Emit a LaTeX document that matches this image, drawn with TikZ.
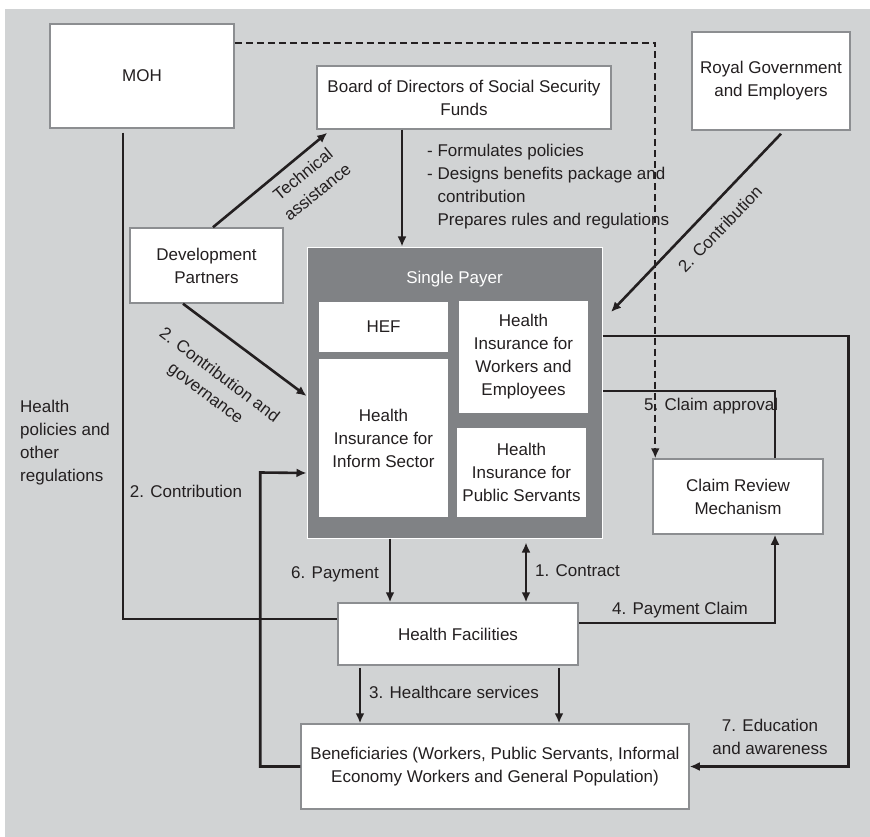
\documentclass[tikz,border=0pt]{standalone}
\usepackage{fontspec}
\setmainfont{Liberation Sans}
\usepackage{tikz}
\usetikzlibrary{arrows.meta, positioning}
\definecolor{bggrey}{RGB}{209,211,212}
\definecolor{paygrey}{RGB}{128,130,133}
\definecolor{edgegrey}{RGB}{140,142,145}
\definecolor{inkdark}{RGB}{35,31,32}

\begin{document}
\begin{tikzpicture}[x=1pt, y=-1pt,
  box/.style={rectangle, draw=edgegrey, fill=white, line width=1.5pt, inner sep=0pt, align=center, text=inkdark, font=\fontsize{17}{23}\selectfont},
  inbox/.style={rectangle, fill=white, inner sep=0pt, align=center, text=inkdark, font=\fontsize{17}{23}\selectfont},
  payer/.style={rectangle, draw=white, fill=paygrey, line width=1pt, inner sep=0pt},
  lbl/.style={align=center, text=inkdark, inner sep=0pt, font=\fontsize{17}{23}\selectfont},
  carrow/.style={-{Latex[length=10pt,width=9pt]}, line width=2.6pt, color=inkdark},
  darrow/.style={{Latex[length=10pt,width=9pt]}-{Latex[length=10pt,width=9pt]}, line width=2.6pt, color=inkdark},
  cline/.style={line width=2.6pt, color=inkdark},
  dline/.style={-{Latex[length=10pt,width=9pt]}, line width=2.4pt, color=inkdark, dash pattern=on 7pt off 4pt}]

  % Background
  \useasboundingbox (0,0) rectangle (870,837);
  \fill[bggrey] (5,9) rectangle (870,837);

  % Top row
  \node[box, minimum width=184pt, minimum height=104pt] (moh) at (142,76) {MOH};
  \node[box, minimum width=294pt, minimum height=63pt] (board) at (464,97.5) {Board of Directors of Social Security\\Funds};
  \node[box, minimum width=158pt, minimum height=98pt] (royal) at (771,81) {Royal Government\\and Employers};
  \node[box, minimum width=153pt, minimum height=75pt] (devp) at (206.5,265.5) {Development\\Partners};

  % Single payer
  \node[payer, minimum width=295pt, minimum height=291pt] (sp) at (454.5,392.5) {};
  \node[lbl, text=white] (sptitle) at (454.5,279) {Single Payer};
  \node[inbox, minimum width=129pt, minimum height=50pt] (hef) at (383.5,327) {HEF};
  \node[inbox, minimum width=129pt, minimum height=112pt] (hiwe) at (523.5,357) {Health\\Insurance for\\Workers and\\Employees};
  \node[inbox, minimum width=129pt, minimum height=158pt] (hiis) at (383.5,438) {Health\\Insurance for\\Inform Sector};
  \node[inbox, minimum width=129pt, minimum height=89pt] (hips) at (521.5,472.5) {Health\\Insurance for\\Public Servants};

  % Lower boxes
  \node[box, minimum width=170pt, minimum height=75pt] (crm) at (738,496.5) {Claim Review\\Mechanism};
  \node[box, minimum width=240pt, minimum height=62pt] (hf) at (458,634) {Health Facilities};
  \node[box, minimum width=388pt, minimum height=85pt] (ben) at (495,766.5) {Beneficiaries (Workers, Public Servants, Informal\\Economy Workers and General Population)};

  % Labels
  \node[lbl, align=left, anchor=west] (boardtxt) at (427,187) {- Formulates policies\\- Designs benefits package and\\\phantom{- }contribution\\\phantom{- }Prepares rules and regulations};
  \node[lbl, rotate=39] (techlbl) at (310,183) {Technical\\assistance};
  \node[lbl, rotate=-37] (govlbl) at (212,385) {2. Contribution and\\governance};
  \node[lbl, rotate=46] (rglbl) at (720,229) {2. Contribution};
  \node[lbl, align=left, anchor=west] (mohlbl) at (20,443) {Health\\policies and\\other\\regulations};
  \node[lbl] (contlbl) at (186,491) {2. Contribution};
  \node[lbl] (paylbl) at (335,574) {6. Payment};
  \node[lbl, anchor=west] (ctrlbl) at (535,571) {1. Contract};
  \node[lbl] (pclbl) at (680,610) {4. Payment Claim};
  \node[lbl, anchor=west] (calbl) at (644,406) {5. Claim approval};
  \node[lbl] (hslbl) at (454,692) {3. Healthcare services};
  \node[lbl] (edulbl) at (770,737) {7. Education\\and awareness};

  % Connections
  \draw[carrow] (board.south -| 402,0) -- (sp.north -| 402,0);
  \draw[carrow] (devp.north -| 213,0) -- ([xshift=11pt, yshift=-3pt]board.south west);
  \draw[carrow] (devp.south -| 183,0) -- (sp.west |- 0,396);
  \coordinate (rgtip) at (611,312);
  \draw[carrow] ([xshift=10pt, yshift=-3pt]royal.south) -- (rgtip);
  \draw[carrow] (sp.east |- 0,336) -- ++(246,0) |- (ben.east);
  \draw[cline] (crm.north -| 775,0) |- (sp.east |- 0,391);
  \draw[carrow] (hf.east |- 0,623) -| (crm.south -| 775,0);
  \draw[darrow, shorten <=4pt] (sp.south -| 526,0) -- (hf.north -| 526,0);
  \draw[carrow] (sp.south -| 390,0) -- (hf.north -| 390,0);
  \draw[cline, shorten <=4pt] (moh.south -| 123,0) |- (hf.west |- 0,619);
  \draw[carrow] (ben.west) -| ++(-40,-294) -- (sp.west |- 0,473);
  \draw[carrow, shorten <=2pt] (hf.south -| 360,0) -- (ben.north -| 360,0);
  \draw[carrow, shorten <=2pt] (hf.south -| 559,0) -- (ben.north -| 559,0);
  \draw[dline] (moh.east |- 0,43) -| ([xshift=3pt]crm.north west);

\end{tikzpicture}
\end{document}
